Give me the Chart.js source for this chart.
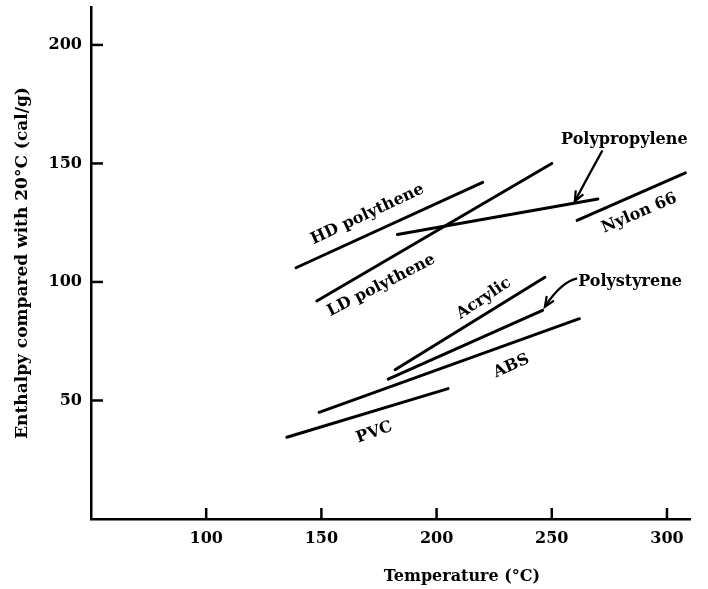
<!DOCTYPE html>
<html>
<head>
<meta charset="utf-8">
<script src="https://cdn.jsdelivr.net/npm/chart.js@4.4.0/dist/chart.umd.min.js"></script>
<style>
html, body { margin: 0; padding: 0; background: #fff; }
#contenedor { width: 708px; height: 589px; }
</style>
</head>
<body>
<div id="contenedor"><canvas id="grafico"></canvas></div>
<script>
// Valores (temperatura en °C, entalpia en cal/g)
const materiales = ['HD polythene', 'LD polythene', 'Polypropylene', 'Nylon 66', 'Acrylic', 'Polystyrene', 'ABS', 'PVC'];
const tempInicio = [139, 148, 183, 261, 182, 179, 149, 135];
const tempFin = [220, 250, 270, 308, 247, 246, 262, 205];
const entalpiaInicio = [106, 92, 120, 126, 63, 59, 45, 34.5];
const entalpiaFin = [142, 150, 135, 146, 102, 88, 84.5, 55];
const ticksX = [100, 150, 200, 250, 300];
const ticksY = [50, 100, 150, 200];

// Rotulos sobre las curvas (coordenadas en unidades de los ejes)
const etiquetas = [
    { texto: 'HD polythene', x: 170, y: 128.5, ang: -25 },
    { texto: 'LD polythene', x: 176, y: 98.5, ang: -27 },
    { texto: 'Polypropylene', x: 281.5, y: 160, ang: 0 },
    { texto: 'Nylon 66', x: 288, y: 129, ang: -23 },
    { texto: 'Acrylic', x: 220.5, y: 93, ang: -34 },
    { texto: 'Polystyrene', x: 284, y: 100, ang: 0 },
    { texto: 'ABS', x: 232.5, y: 64.5, ang: -24 },
    { texto: 'PVC', x: 173, y: 36.5, ang: -20 }
];

// Flechas que señalan Polypropylene y Polystyrene
const flechas = [
    { desde: [272, 155.5], control: [266, 145], hasta: [260, 134] },
    { desde: [261, 101.5], control: [254, 100], hasta: [247, 89.5] }
];

const fuente = { family: 'DejaVu Serif', weight: 'bold', size: 16 };

var datasets = materiales.map(function (nombre, i) {
    return {
        label: nombre,
        data: [
            { x: tempInicio[i], y: entalpiaInicio[i] },
            { x: tempFin[i], y: entalpiaFin[i] }
        ],
        showLine: true,
        borderColor: '#000',
        borderWidth: 3,
        pointRadius: 0,
        borderCapStyle: 'round'
    };
});

// Plugin para marcas internas, rotulos, flechas y titulo del eje X
const extras = {
    id: 'extras',
    afterDraw(chart) {
        const ctx = chart.ctx;
        const sx = chart.scales.x;
        const sy = chart.scales.y;
        ctx.save();
        ctx.strokeStyle = '#000';
        ctx.fillStyle = '#000';
        ctx.lineWidth = 2.5;

        // marcas de los ejes hacia adentro
        ticksX.forEach(function (v) {
            const px = sx.getPixelForValue(v);
            ctx.beginPath();
            ctx.moveTo(px, sy.bottom);
            ctx.lineTo(px, sy.bottom - 11);
            ctx.stroke();
        });
        ticksY.forEach(function (v) {
            const py = sy.getPixelForValue(v);
            ctx.beginPath();
            ctx.moveTo(sx.left, py);
            ctx.lineTo(sx.left + 12, py);
            ctx.stroke();
        });

        // rotulos
        ctx.font = 'bold 16px "DejaVu Serif"';
        ctx.textAlign = 'center';
        ctx.textBaseline = 'middle';
        etiquetas.forEach(function (e) {
            ctx.save();
            ctx.translate(sx.getPixelForValue(e.x), sy.getPixelForValue(e.y));
            ctx.rotate(e.ang * Math.PI / 180);
            ctx.fillText(e.texto, 0, 0);
            ctx.restore();
        });

        // titulo del eje X (algo desplazado a la derecha como en el original)
        ctx.fillText('Temperature (°C)', sx.getPixelForValue(211), chart.height - 12);

        // flechas
        ctx.lineWidth = 2.2;
        flechas.forEach(function (f) {
            const x0 = sx.getPixelForValue(f.desde[0]), y0 = sy.getPixelForValue(f.desde[1]);
            const cx = sx.getPixelForValue(f.control[0]), cy = sy.getPixelForValue(f.control[1]);
            const x1 = sx.getPixelForValue(f.hasta[0]), y1 = sy.getPixelForValue(f.hasta[1]);
            ctx.beginPath();
            ctx.moveTo(x0, y0);
            ctx.quadraticCurveTo(cx, cy, x1, y1);
            ctx.stroke();
            const a = Math.atan2(y1 - cy, x1 - cx);
            ctx.beginPath();
            ctx.moveTo(x1 - 11 * Math.cos(a - 0.4), y1 - 11 * Math.sin(a - 0.4));
            ctx.lineTo(x1, y1);
            ctx.lineTo(x1 - 11 * Math.cos(a + 0.4), y1 - 11 * Math.sin(a + 0.4));
            ctx.stroke();
        });
        ctx.restore();
    }
};

var ctx = document.getElementById('grafico').getContext('2d');
window.miGrafico = new Chart(ctx, {
    type: 'scatter',
    data: { datasets: datasets },
    plugins: [extras],
    options: {
        responsive: true,
        maintainAspectRatio: false,
        animation: false,
        events: [],
        layout: { padding: { top: 7, right: 18, left: 0, bottom: 0 } },
        plugins: {
            legend: { display: false },
            tooltip: { enabled: false }
        },
        scales: {
            x: {
                type: 'linear',
                min: 50,
                max: 310,
                afterBuildTicks: function (s) { s.ticks = ticksX.map(function (v) { return { value: v }; }); },
                afterFit: function (s) { s.height = 70; s.paddingLeft = 0; s.paddingRight = 0; },
                grid: { display: false, drawTicks: false },
                border: { display: true, color: '#000', width: 2.5 },
                ticks: { color: '#000', font: fuente, padding: 10, maxRotation: 0 }
            },
            y: {
                type: 'linear',
                min: 0,
                max: 216,
                afterBuildTicks: function (s) { s.ticks = ticksY.map(function (v) { return { value: v }; }); },
                afterFit: function (s) { s.width = 91; s.paddingTop = 0; s.paddingBottom = 0; },
                grid: { display: false, drawTicks: false },
                border: { display: true, color: '#000', width: 2.5 },
                ticks: { color: '#000', font: fuente, padding: 9 },
                title: { display: true, text: 'Enthalpy compared with 20°C (cal/g)', color: '#000', font: { family: 'DejaVu Serif', weight: 'bold', size: 17 }, padding: { top: 12, bottom: 0 } }
            }
        }
    }
});
</script>
</body>
</html>
